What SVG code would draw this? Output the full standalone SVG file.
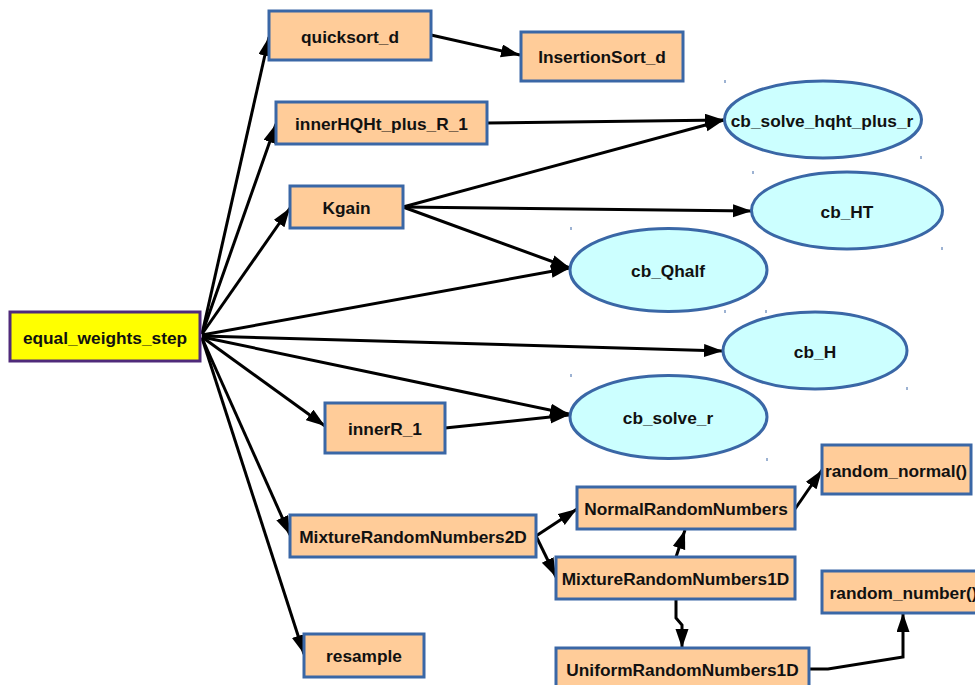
<svg xmlns="http://www.w3.org/2000/svg" width="975" height="685" viewBox="0 0 975 685">
<defs>
<marker id="ah" markerUnits="userSpaceOnUse" markerWidth="20" markerHeight="14" refX="19" refY="6.5" orient="auto">
<path d="M0,0 L19,6.5 L0,13 z" fill="#000"/>
</marker>
<style>
.box{fill:#ffcc99;stroke:#3a67a6;stroke-width:3}
.root{fill:#ffff00;stroke:#4f2a7a;stroke-width:3}
.ell{fill:#ccffff;stroke:#3a67a6;stroke-width:3}
.t{font-family:"Liberation Sans",Arial,sans-serif;font-weight:bold;font-size:17.3px;fill:#111;text-anchor:middle}
.e{fill:none;stroke:#000;stroke-width:3;marker-end:url(#ah)}
.tick{stroke:#3a67a6;stroke-width:1}
</style>
</defs>
<rect width="975" height="685" fill="#fff"/>
<g id="connectors">
<path class="e" d="M202,334 L269,37"/>
<path class="e" d="M202,334 L276,124"/>
<path class="e" d="M202,334 L290,208"/>
<path class="e" d="M202,335 L570,268"/>
<path class="e" d="M202,336 L723,351"/>
<path class="e" d="M202,337 L325,426"/>
<path class="e" d="M202,337 L569,414"/>
<path class="e" d="M202,338 L290,535"/>
<path class="e" d="M202,338 L304,654"/>
<path class="e" d="M431,35 L520,55"/>
<path class="e" d="M487,123 L724,120"/>
<path class="e" d="M403,207 L724,120"/>
<path class="e" d="M403,207 L752,211"/>
<path class="e" d="M403,207 L570,268"/>
<path class="e" d="M445,428 L569,415"/>
<path class="e" d="M536,536 L577,509"/>
<path class="e" d="M536,536 L556,577"/>
<path class="e" d="M676,557 L685,530"/>
<path class="e" d="M795,509 L822,470"/>
<path class="e" d="M676,599 L676,618 L682,625 L682,648"/>
<path class="e" d="M809,669 L828,669 L903,657 L903,613"/>
</g>
<g id="equal_weights_step"><rect class="root" x="10" y="312" width="190" height="49"/><text class="t" x="105" y="344">equal_weights_step</text></g>
<g id="quicksort_d"><rect class="box" x="269" y="11" width="162" height="49"/><text class="t" x="350" y="43">quicksort_d</text></g>
<g id="InsertionSort_d"><rect class="box" x="521" y="32" width="162" height="49"/><text class="t" x="602" y="63">InsertionSort_d</text></g>
<g id="innerHQHt_plus_R_1"><rect class="box" x="276" y="102" width="211" height="42"/><text class="t" x="381.5" y="130">innerHQHt_plus_R_1</text></g>
<g id="Kgain"><rect class="box" x="290" y="186" width="113" height="42"/><text class="t" x="346.5" y="214">Kgain</text></g>
<g id="innerR_1"><rect class="box" x="325" y="403" width="120" height="50"/><text class="t" x="385" y="435">innerR_1</text></g>
<g id="MixtureRandomNumbers2D"><rect class="box" x="290" y="515" width="246" height="42"/><text class="t" x="413" y="543">MixtureRandomNumbers2D</text></g>
<g id="resample"><rect class="box" x="304" y="634" width="120" height="43"/><text class="t" x="364" y="662">resample</text></g>
<g id="cb_solve_hqht_plus_r"><ellipse class="ell" cx="823" cy="119.5" rx="98.5" ry="38.5"/><text class="t" x="822" y="127">cb_solve_hqht_plus_r</text><path class="tick" d="M725,80v3M921,156v3"/></g>
<g id="cb_HT"><ellipse class="ell" cx="847" cy="210.5" rx="95.5" ry="38.5"/><text class="t" x="847" y="218">cb_HT</text><path class="tick" d="M753,171v3M942,247v3"/></g>
<g id="cb_Qhalf"><ellipse class="ell" cx="668.5" cy="270" rx="98.5" ry="41.5"/><text class="t" x="668" y="277">cb_Qhalf</text><path class="tick" d="M571,227v3M766,310v3"/></g>
<g id="cb_H"><ellipse class="ell" cx="815" cy="350.5" rx="92" ry="38.5"/><text class="t" x="815" y="358">cb_H</text><path class="tick" d="M725,310v3M907,387v3"/></g>
<g id="cb_solve_r"><ellipse class="ell" cx="668.5" cy="417" rx="98.5" ry="41.5"/><text class="t" x="668" y="424">cb_solve_r</text><path class="tick" d="M571,374v3M767,458v3"/></g>
<g id="random_normal"><rect class="box" x="822" y="445" width="149" height="49"/><text class="t" x="896" y="477">random_normal()</text></g>
<g id="NormalRandomNumbers"><rect class="box" x="577" y="487" width="218" height="42"/><text class="t" x="686" y="515">NormalRandomNumbers</text></g>
<g id="MixtureRandomNumbers1D"><rect class="box" x="556" y="557" width="239" height="42"/><text class="t" x="675.5" y="585">MixtureRandomNumbers1D</text></g>
<g id="random_number"><rect class="box" x="822" y="571" width="163" height="42"/><text class="t" x="903.5" y="599">random_number()</text></g>
<g id="UniformRandomNumbers1D"><rect class="box" x="556" y="648" width="253" height="45"/><text class="t" x="682.5" y="676">UniformRandomNumbers1D</text></g>
</svg>
